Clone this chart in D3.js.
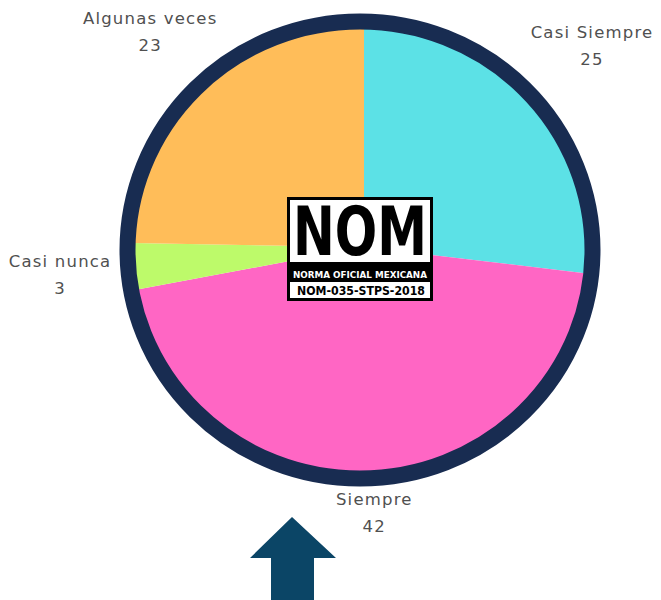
<!DOCTYPE html>
<html lang='es'>
<head>
  <meta charset='UTF-8'>
  <title>NOM-035 Pie</title>
  <style>
  body { margin: 0; background: #fff; }
  .label { font-family: 'DejaVu Sans', sans-serif; font-size: 16.5px; fill: #505050; letter-spacing: 1.2px; }
  </style>
  <script src='https://d3js.org/d3.v7.min.js'></script>
</head>
<body>
  <script>

  // data
  var categories = ['Casi Siempre', 'Siempre', 'Casi nunca', 'Algunas veces'];
  var values = [25, 42, 3, 23];
  var colors = ['#5ce1e6', '#ff66c4', '#bdfa6a', '#ffbd59'];

  var svgWidth = 661;
  var svgHeight = 600;

  var svg = d3.select('body').append('svg')
    .attr('width', svgWidth)
    .attr('height', svgHeight);

  var cx = 364, cy = 247;        // pie centre
  var ringX = 360, ringY = 250;  // frame centre
  var radius = 232;
  var labelRadius = 305;

  var data = categories.map(function (c, i) {
    return { name: c, value: values[i], color: colors[i] };
  });

  var pie = d3.pie().sort(null).value(function (d) { return d.value; });
  var arcs = pie(data);
  var arc = d3.arc().innerRadius(0).outerRadius(radius);
  var labelArc = d3.arc().innerRadius(labelRadius).outerRadius(labelRadius);

  // clip the pie to the inside of the frame
  svg.append('defs').append('clipPath').attr('id', 'inner')
    .append('ellipse')
    .attr('cx', ringX).attr('cy', ringY)
    .attr('rx', 227).attr('ry', 223);

  var g = svg.append('g').attr('clip-path', 'url(#inner)')
    .append('g').attr('transform', 'translate(' + cx + ',' + cy + ')');

  g.selectAll('path')
    .data(arcs)
    .enter()
    .append('path')
    .attr('d', arc)
    .attr('fill', function (d) { return d.data.color; });

  // dark frame
  svg.append('ellipse')
    .attr('cx', ringX).attr('cy', ringY)
    .attr('rx', 232.5).attr('ry', 228.5)
    .attr('fill', 'none')
    .attr('stroke', '#182c51')
    .attr('stroke-width', 16);

  // labels (kept above the bottom of the drawing area)
  var labels = svg.append('g').attr('transform', 'translate(' + cx + ',' + cy + ')');
  arcs.forEach(function (d) {
    var p = labelArc.centroid(d);
    var y = Math.min(p[1], 264);
    var t = labels.append('text')
      .attr('class', 'label')
      .attr('text-anchor', 'middle')
      .attr('x', p[0])
      .attr('y', y - 6);
    t.append('tspan').attr('x', p[0]).text(d.data.name);
    t.append('tspan').attr('x', p[0]).attr('dy', 27).text(d.data.value);
  });

  // NOM logo in the centre
  var logo = svg.append('g');
  logo.append('rect').attr('x', 287).attr('y', 197).attr('width', 146).attr('height', 104).attr('fill', '#000');
  logo.append('rect').attr('x', 290).attr('y', 200).attr('width', 140).attr('height', 62).attr('fill', '#fff');
  logo.append('rect').attr('x', 290).attr('y', 282).attr('width', 140).attr('height', 16).attr('fill', '#fff');
  logo.append('text')
    .attr('x', 293).attr('y', 255)
    .attr('textLength', 134).attr('lengthAdjust', 'spacingAndGlyphs')
    .style('font-family', "'Liberation Sans Narrow', 'DejaVu Sans Condensed', sans-serif")
    .style('font-weight', 'bold').style('font-size', '68px')
    .text('NOM');
  logo.append('text')
    .attr('x', 293).attr('y', 278)
    .attr('textLength', 134).attr('lengthAdjust', 'spacingAndGlyphs')
    .attr('fill', '#fff')
    .style('font-family', "'DejaVu Sans Condensed', sans-serif")
    .style('font-weight', 'bold').style('font-size', '8.5px')
    .text('NORMA OFICIAL MEXICANA');
  logo.append('text')
    .attr('x', 297).attr('y', 295)
    .attr('textLength', 128).attr('lengthAdjust', 'spacingAndGlyphs')
    .style('font-family', "'DejaVu Sans Condensed', sans-serif")
    .style('font-weight', 'bold').style('font-size', '12px')
    .text('NOM-035-STPS-2018');

  // arrow pointing up
  svg.append('path')
    .attr('d', 'M292,517 L336,558 L314,558 L314,600 L271,600 L271,558 L250,558 Z')
    .attr('fill', '#0b4566');
  </script>
</body>
</html>
